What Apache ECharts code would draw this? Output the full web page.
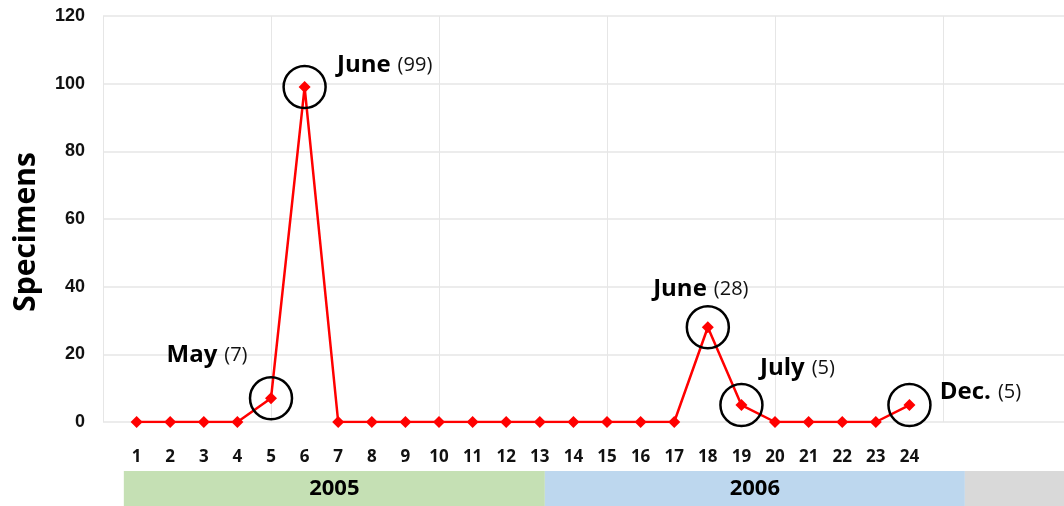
<!DOCTYPE html>
<html>
<head>
<meta charset="utf-8">
<script src="https://cdn.jsdelivr.net/npm/echarts@6/dist/echarts.min.js"></script>
<style>
html, body { margin: 0; padding: 0; background: #fff; }
#chart { width: 1064px; height: 506px; }
</style>
</head>
<body>
<div id="chart"></div>
<script>
// 数据: month number (1 = Jan 2005 ... 24 = Dec 2006)
let months = [1, 2, 3, 4, 5, 6, 7, 8, 9, 10, 11, 12, 13, 14, 15, 16, 17, 18, 19, 20, 21, 22, 23, 24]
let specimens = [0, 0, 0, 0, 7, 99, 0, 0, 0, 0, 0, 0, 0, 0, 0, 0, 0, 28, 5, 0, 0, 0, 0, 5]
// circled months and their names
let markedMonths = [5, 6, 18, 19, 24]
let markedNames = ['May', 'June', 'June', 'July', 'Dec.']
// year strip under the axis
let yearNames = ['2005', '2006', '']
let yearStart = [0.62, 13.15, 25.65]
let yearEnd = [13.15, 25.65, 28.6]
let yearColors = ['#c5e0b4', '#bdd7ee', '#d9d9d9']

// label offsets for the circled points (px)
let labelOffsets = [[-64, -43], [80, -22], [-7, -38], [56, -37], [71, -13]]

let lineData = months.map((m, i) => [m, specimens[i]])
let circleData = markedMonths.map((m, i) => ({
    value: [m, specimens[m - 1]],
    label: {
        show: true,
        position: 'inside',
        offset: labelOffsets[i],
        formatter: '{b|' + markedNames[i] + '}{n|(' + specimens[m - 1] + ')}'
    }
}))

let bands = yearNames.map((y, i) => [
    { name: y, xAxis: yearStart[i], yAxis: 0, itemStyle: { color: yearColors[i] } },
    { xAxis: yearEnd[i], yAxis: 1 }
])

let chart = echarts.init(document.getElementById('chart'))
let option = {
    animation: false,
    grid: [
        { left: 103, right: 0, top: 16, bottom: 84, outerBoundsMode: 'none' },
        { left: 103, right: 0, top: 471, height: 35, outerBoundsMode: 'none' }
    ],
    xAxis: [{
        type: 'value', gridIndex: 0, min: 0, max: 28.6, interval: 1,
        axisLine: { show: false }, axisTick: { show: false }, splitLine: { show: false },
        axisLabel: {
            margin: 27, color: '#111', fontFamily: 'Open Sans', fontWeight: 'bold', fontSize: 17,
            formatter: v => (v >= 1 && v <= 24 && Number.isInteger(v)) ? v : ''
        }
    }, {
        type: 'value', gridIndex: 0, min: 0, max: 28.6, interval: 5, position: 'bottom',
        axisLine: { show: false }, axisTick: { show: false }, axisLabel: { show: false },
        splitLine: { show: true, lineStyle: { color: '#e6e6e6', width: 1 } }
    }, {
        type: 'value', gridIndex: 1, min: 0, max: 28.6, show: false
    }],
    yAxis: [{
        type: 'value', gridIndex: 0, min: 0, max: 120, interval: 20,
        name: 'Specimens', nameLocation: 'middle', nameGap: 62,
        nameTextStyle: { fontFamily: 'Open Sans', fontWeight: 'bold', fontSize: 30, color: '#000', padding: [0, 26, 0, 0] },
        axisLine: { show: false }, axisTick: { show: false },
        axisLabel: { margin: 18, color: '#111', fontFamily: 'Liberation Sans', fontWeight: 'bold', fontSize: 18 },
        splitLine: { lineStyle: { color: '#e6e6e6', width: 1.5 } }
    }, {
        type: 'value', gridIndex: 1, min: 0, max: 1, show: false
    }],
    series: [{
        type: 'line',
        xAxisIndex: 0, yAxisIndex: 0,
        data: lineData,
        symbol: 'diamond',
        symbolSize: 12,
        lineStyle: { color: '#ff0000', width: 2.5 },
        itemStyle: { color: '#ff0000' },
        z: 3
    }, {
        type: 'scatter',
        xAxisIndex: 0, yAxisIndex: 0,
        data: circleData,
        symbol: 'circle',
        symbolSize: 42,
        itemStyle: { color: 'rgba(0,0,0,0)', borderColor: '#000', borderWidth: 2.5, opacity: 1 },
        label: {
            color: '#000',
            rich: {
                b: { fontFamily: 'Open Sans', fontWeight: 'bold', fontSize: 24, color: '#000', padding: [0, 7, 0, 0] },
                n: { fontFamily: 'Open Sans', fontSize: 20, color: '#111' }
            }
        },
        z: 4
    }, {
        type: 'scatter',
        xAxisIndex: 2, yAxisIndex: 1,
        data: [],
        markArea: {
            silent: true,
            label: {
                show: true, position: 'inside', color: '#000',
                fontFamily: 'Open Sans', fontWeight: 'bold', fontSize: 22
            },
            data: bands
        }
    }]
}
chart.setOption(option)
</script>
</body>
</html>
